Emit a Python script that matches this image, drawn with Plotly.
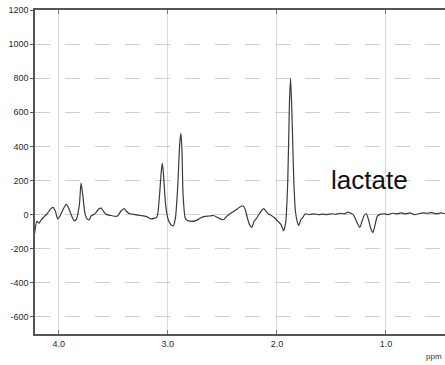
import plotly.graph_objects as go

ppm = [4.22, 4.20, 4.18, 4.16, 4.13, 4.10, 4.07, 4.05, 4.03, 4.01, 3.99, 3.96, 3.93, 3.91, 3.88, 3.86,
       3.84, 3.81, 3.795, 3.78, 3.76, 3.74, 3.72, 3.70, 3.68, 3.66, 3.63, 3.61, 3.59, 3.56, 3.52, 3.48,
       3.46, 3.43, 3.40, 3.38, 3.35, 3.30, 3.25, 3.20, 3.15, 3.10, 3.08, 3.06, 3.05, 3.04, 3.02, 3.00,
       2.97, 2.95, 2.93, 2.91, 2.89, 2.88, 2.87, 2.86, 2.84, 2.82, 2.78, 2.74, 2.70, 2.66, 2.62, 2.58,
       2.55, 2.52, 2.49, 2.46, 2.42, 2.38, 2.34, 2.31, 2.29, 2.27, 2.25, 2.23, 2.21, 2.19, 2.17, 2.15,
       2.13, 2.12, 2.10, 2.08, 2.05, 2.02, 1.99, 1.96, 1.94, 1.92, 1.90, 1.885, 1.874, 1.86, 1.845, 1.83,
       1.81, 1.80, 1.78, 1.76, 1.74, 1.70, 1.66, 1.62, 1.58, 1.54, 1.50, 1.46, 1.42, 1.38, 1.35, 1.33,
       1.30, 1.27, 1.24, 1.22, 1.20, 1.18, 1.16, 1.14, 1.12, 1.10, 1.08, 1.06, 1.02, 0.98, 0.94, 0.90,
       0.86, 0.82, 0.78, 0.74, 0.70, 0.66, 0.62, 0.58, 0.54, 0.50, 0.46]
intensity = [-110, -40, -50, -30, -10, 10, 35, 42, 20, -25, -10, 30, 62, 40, -10, -35,
             -30, 60, 185, 120, 10, -25, -30, -5, 0, 10, 35, 38, 20, 0, -5, -10,
             -8, 20, 35, 20, 5, 0, -5, -10, -25, -15, 80, 250, 300, 240, 60, -20,
             -60, -65, -20, 150, 420, 477, 380, 120, -20, -35, -40, -35, -20, -10, -8, -5,
             -15, -25, -30, -10, 10, 25, 45, 52, 30, -20, -60, -75, -40, -25, -5, 15,
             30, 35, 20, 5, -5, -20, -40, -60, -95, -50, 200, 650, 800, 550, 200, 20,
             -50, -65, -30, -15, 5, 0, 5, 0, 3, 0, 5, 2, 8, 5, 15, 10,
             0, -40, -75, -40, -5, 5, -30, -80, -105, -60, -10, 0, 5, 0, 8, 5,
             10, 5, 10, 0, 5, 10, 8, 12, 5, 10, 5]

x_ticks = [4.0, 3.0, 2.0, 1.0]
x_tick_labels = ["4.0", "3.0", "2.0", "1.0"]
y_ticks = [1200, 1000, 800, 600, 400, 200, 0, -200, -400, -600]
y_tick_labels = ["1200", "1000", "800", "600", "400", "200", "0", "-200", "-400", "-600"]

W, H = 445, 365
ML, MR, MT, MB = 35, 0, 10, 31
plot_w = W - ML - MR
plot_h = H - MT - MB

fig = go.Figure()
fig.add_trace(go.Scatter(x=ppm, y=intensity, mode="lines",
                         line=dict(color="#3a3a3a", width=1.2, shape="spline", smoothing=0.6),
                         showlegend=False))

font = dict(family="Liberation Sans, Arial, sans-serif", size=9, color="#2a2a2a")

fig.update_layout(
    width=W, height=H,
    margin=dict(l=ML, r=MR, t=MT, b=MB),
    paper_bgcolor="white", plot_bgcolor="white",
    xaxis=dict(range=[4.217, 0.459], tickvals=x_ticks, ticktext=x_tick_labels,
               showgrid=True, gridcolor="#dadada", gridwidth=1,
               zeroline=False, showline=True, linecolor="#555555", linewidth=2,
               mirror="ticks", ticks="inside", ticklen=4, tickcolor="#777777",
               tickfont=font),
    yaxis=dict(range=[-700, 1200], tickvals=y_ticks, ticktext=y_tick_labels,
               showgrid=True, gridcolor="#cfcfcf", griddash="longdash", gridwidth=1,
               zeroline=False, showline=True, linecolor="#555555", linewidth=1.5,
               ticks="outside", ticklen=3, tickcolor="#555555",
               tickfont=font),
    annotations=[
        dict(xref="paper", yref="paper",
             x=(369 - ML) / plot_w, y=(H - MB - 180) / plot_h,
             xanchor="center", yanchor="middle",
             text="lactate", showarrow=False,
             font=dict(family="Liberation Sans, Arial, sans-serif", size=26, color="#111111")),
        dict(xref="paper", yref="paper",
             x=(434 - ML) / plot_w, y=(H - MB - 356) / plot_h,
             xanchor="center", yanchor="middle",
             text="ppm", showarrow=False,
             font=dict(family="Liberation Sans, Arial, sans-serif", size=8, color="#333333")),
    ],
)

fig.write_html("out.html")
